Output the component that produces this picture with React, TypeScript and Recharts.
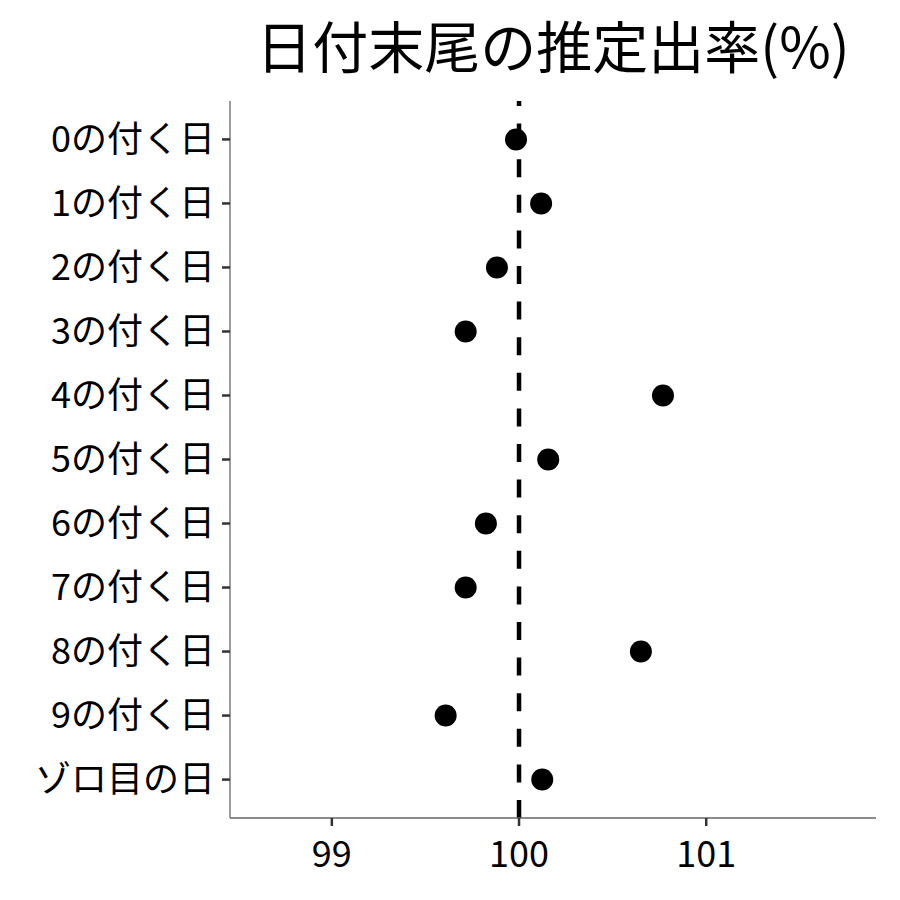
import React from 'react';
import {
  ScatterChart,
  Scatter,
  XAxis,
  YAxis,
  ReferenceLine,
} from 'recharts';

const categories = [
  '0の付く日',
  '1の付く日',
  '2の付く日',
  '3の付く日',
  '4の付く日',
  '5の付く日',
  '6の付く日',
  '7の付く日',
  '8の付く日',
  '9の付く日',
  'ゾロ目の日',
];
const rates = [99.984, 100.118, 99.882, 99.715, 100.769, 100.156, 99.823, 99.715, 100.651, 99.608, 100.124];
const xTicks = [99, 100, 101];
const title = '日付末尾の推定出率(%)';

const FONT = '"Noto Sans CJK JP", "Noto Sans", sans-serif';

const data = categories.map((name, i) => ({ idx: i, name, rate: rates[i] }));

const Dot = (props: any) => {
  const { cx, cy } = props;
  if (cx == null || cy == null) return null;
  return <circle cx={cx} cy={cy} r={11} fill="#000" />;
};

const App: React.FC = () => {
  return (
    <div style={{ position: 'absolute', left: 0, top: 0, width: 900, height: 900, background: '#fff', fontFamily: FONT }}>
      <ScatterChart width={900} height={900} margin={{ top: 101, right: 24, bottom: 0, left: 8 }}>
        <XAxis
          type="number"
          dataKey="rate"
          domain={[98.456, 101.907]}
          ticks={xTicks}
          allowDataOverflow
          height={82}
          axisLine={{ stroke: '#666', strokeWidth: 1.3 }}
          tickLine={{ stroke: '#333', strokeWidth: 2.5 }}
          tickSize={8}
          tick={{ fontSize: 36, fill: '#000', fontFamily: FONT, dy: 13 }}
        />
        <YAxis
          type="number"
          dataKey="idx"
          domain={[-0.6, categories.length - 1 + 0.6]}
          ticks={categories.map((_, i) => i)}
          tickFormatter={(v: number) => categories[v] ?? ''}
          reversed
          allowDataOverflow
          interval={0}
          width={222}
          axisLine={{ stroke: '#666', strokeWidth: 1.3 }}
          tickLine={{ stroke: '#333', strokeWidth: 2.5 }}
          tickSize={8}
          tick={{ fontSize: 36, fill: '#000', fontFamily: FONT, dx: -5 }}
        />
        <ReferenceLine
          x={100}
          stroke="#000"
          strokeWidth={4.5}
          strokeDasharray="18 17.6"
        />
        <Scatter data={data} shape={<Dot />} isAnimationActive={false} />
      </ScatterChart>
      <div
        style={{
          position: 'absolute',
          left: 0,
          top: 0,
          width: 900,
          paddingLeft: 206,
          boxSizing: 'border-box',
          textAlign: 'center',
          fontSize: 56,
          lineHeight: '88px',
          whiteSpace: 'nowrap',
          color: '#000',
          pointerEvents: 'none',
        }}
      >
        {title}
      </div>
    </div>
  );
};

export default App;
